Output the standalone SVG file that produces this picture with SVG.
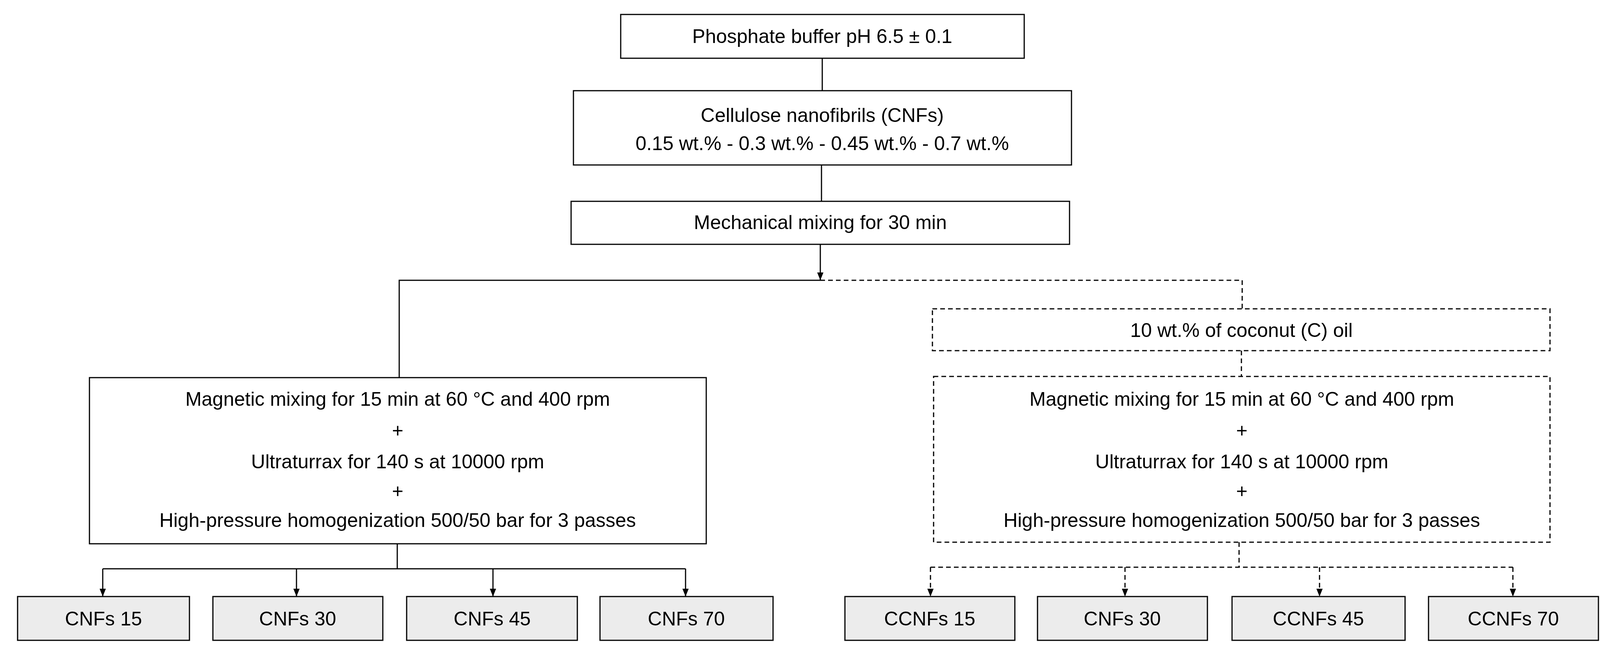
<svg xmlns="http://www.w3.org/2000/svg" width="4110" height="1673" viewBox="0 0 4110 1673">
<style>
text{font-family:"Liberation Sans",Arial,sans-serif;font-size:50px;text-anchor:middle;dominant-baseline:central;fill:#000}
.b{fill:#fff;stroke:#000;stroke-width:3}
.d{fill:#fff;stroke:#000;stroke-width:3;stroke-dasharray:12 8}
.g{fill:#ececec;stroke:#000;stroke-width:3}
.l{fill:none;stroke:#000;stroke-width:3}
.ld{fill:none;stroke:#000;stroke-width:3;stroke-dasharray:12 8}
</style>
<defs><marker id="a" viewBox="0 0 10 10" refX="10" refY="5" markerWidth="7" markerHeight="7" markerUnits="userSpaceOnUse" orient="auto"><path d="M0,0L10,5L0,10z" fill="#000"/></marker>
<marker id="m" viewBox="0 0 10 10" refX="10" refY="5" markerWidth="20" markerHeight="20" markerUnits="userSpaceOnUse" orient="auto"><path d="M0,1L10,5L0,9z" fill="#000"/></marker></defs>
<g id="connectors">
<path class="l" d="M2105,149V232M2103,422V515"/>
<path class="l" d="M2100,625V717" marker-end="url(#m)"/>
<path class="l" d="M2100,717H1022V966"/>
<path class="ld" d="M2100,717H3180V790M3178,897V963"/>
<path class="l" d="M1017,1391V1455M263,1455H1755"/>
<path class="l" d="M263,1455V1526" marker-end="url(#m)"/>
<path class="l" d="M759,1455V1526" marker-end="url(#m)"/>
<path class="l" d="M1262,1455V1526" marker-end="url(#m)"/>
<path class="l" d="M1755,1455V1526" marker-end="url(#m)"/>
<path class="ld" d="M3172,1387V1451M2382,1451H3873"/>
<path class="ld" d="M2382,1451V1526" marker-end="url(#m)"/>
<path class="ld" d="M2880,1451V1526" marker-end="url(#m)"/>
<path class="ld" d="M3378,1451V1526" marker-end="url(#m)"/>
<path class="ld" d="M3873,1451V1526" marker-end="url(#m)"/>
</g>
<g id="n1"><rect class="b" x="1589" y="37" width="1033" height="112"/><text x="2105" y="93">Phosphate buffer pH 6.5 ± 0.1</text></g>
<g id="n2"><rect class="b" x="1468" y="232" width="1275" height="190"/><text x="2105" y="295">Cellulose nanofibrils (CNFs)</text><text x="2105" y="367">0.15 wt.% -  0.3 wt.% - 0.45 wt.% - 0.7 wt.%</text></g>
<g id="n3"><rect class="b" x="1462" y="515" width="1276" height="110"/><text x="2100" y="569">Mechanical mixing for 30 min</text></g>
<g id="n4"><rect class="d" x="2387" y="790" width="1581" height="107"/><text x="3178" y="845">10 wt.% of coconut (C) oil</text></g>
<g id="n5"><rect class="b" x="229" y="966" width="1579" height="425"/>
<text x="1018" y="1021">Magnetic mixing for 15 min at 60 °C and 400 rpm</text><text x="1018" y="1101">+</text><text x="1018" y="1181">Ultraturrax for 140 s at 10000 rpm</text><text x="1018" y="1256">+</text><text x="1018" y="1331">High-pressure homogenization 500/50 bar for 3 passes</text></g>
<g id="n6"><rect class="d" x="2390" y="963" width="1578" height="424"/>
<text x="3179" y="1021">Magnetic mixing for 15 min at 60 °C and 400 rpm</text><text x="3179" y="1101">+</text><text x="3179" y="1181">Ultraturrax for 140 s at 10000 rpm</text><text x="3179" y="1256">+</text><text x="3179" y="1331">High-pressure homogenization 500/50 bar for 3 passes</text></g>
<g id="o1"><rect class="g" x="45" y="1526" width="440" height="112"/><text x="265" y="1583">CNFs 15</text></g>
<g id="o2"><rect class="g" x="545" y="1526" width="435" height="112"/><text x="762" y="1583">CNFs 30</text></g>
<g id="o3"><rect class="g" x="1041" y="1526" width="437" height="112"/><text x="1260" y="1583">CNFs 45</text></g>
<g id="o4"><rect class="g" x="1536" y="1526" width="443" height="112"/><text x="1757" y="1583">CNFs 70</text></g>
<g id="o5"><rect class="g" x="2163" y="1526" width="435" height="112"/><text x="2380" y="1583">CCNFs 15</text></g>
<g id="o6"><rect class="g" x="2656" y="1526" width="435" height="112"/><text x="2873" y="1583">CNFs 30</text></g>
<g id="o7"><rect class="g" x="3154" y="1526" width="443" height="112"/><text x="3375" y="1583">CCNFs 45</text></g>
<g id="o8"><rect class="g" x="3657" y="1526" width="435" height="112"/><text x="3874" y="1583">CCNFs 70</text></g>
</svg>
